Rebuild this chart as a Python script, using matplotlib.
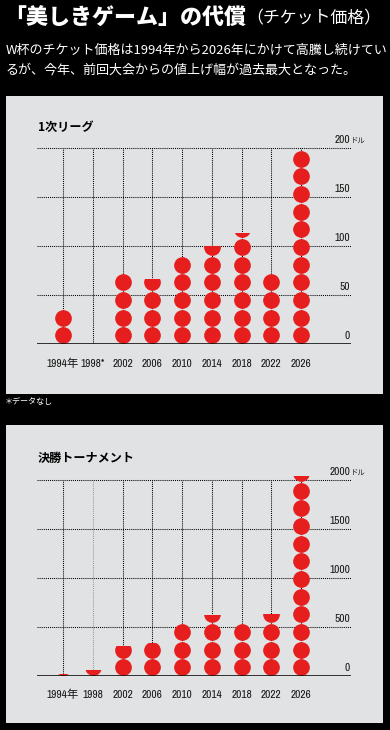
import math
import numpy as np
import matplotlib
matplotlib.use('Agg')
import matplotlib.pyplot as plt
from matplotlib.patches import Rectangle
from matplotlib import font_manager as fm

plt.rcParams['font.family'] = ['Noto Sans CJK JP', 'DejaVu Sans']

# ---------------- data ----------------
group_years = ['1994年', '1998*', '2002', '2006', '2010', '2014', '2018', '2022', '2026']
group_prices = [36, None, 72, 66, 90, 100, 113, 72, 198]
group_ticks = [0, 50, 100, 150, 200]
group_unit = 18          # dollars per circle

final_years = ['1994年', '1998', '2002', '2006', '2010', '2014', '2018', '2022', '2026']
final_prices = [22, 58, 305, 335, 528, 620, 540, 630, 2040]
final_ticks = [0, 500, 1000, 1500, 2000]
final_unit = 180         # dollars per circle

title_main = '「美しきゲーム」の代償'
title_sub = '（チケット価格）'
lead1 = 'W杯のチケット価格は1994年から2026年にかけて高騰し続けてい'
lead2 = 'るが、今年、前回大会からの値上げ幅が過去最大となった。'
note = '＊データなし'

# ---------------- style ----------------
W, H = 390, 730
PANEL = '#e1e2e3'
RED = '#e61e1e'

# pick a condensed face for the numerals if one is installed
ttf = fm.fontManager.ttflist
names = {f.name for f in ttf}
NUMSTRETCH = 'normal'
NUMSIZE = 7.4
NUMWEIGHT = 'normal'
if 'Liberation Sans Narrow' in names:
    NUMFONT, NUMSIZE, NUMWEIGHT = 'Liberation Sans Narrow', 8.2, 'bold'
else:
    cond = [f.name for f in ttf if ('Condensed' in f.name or 'Narrow' in f.name)]
    dvc = [f for f in ttf if f.name == 'DejaVu Sans' and 'ondensed' in str(f.stretch)]
    if cond:
        NUMFONT, NUMSIZE = sorted(cond)[0], 8.2
    elif dvc:
        NUMFONT, NUMSTRETCH, NUMSIZE = 'DejaVu Sans', 'condensed', 7.4
    else:
        NUMFONT = 'Liberation Sans' if 'Liberation Sans' in names else 'DejaVu Sans'
NUMFAM = [NUMFONT, 'Noto Sans CJK JP']

fig = plt.figure(figsize=(W / 100, H / 100), dpi=100, facecolor='black')


def fx(px):
    return px / W


def fy(py):
    return 1 - py / H


X0, DX = 63, 29.75            # pixel x of first column, spacing
GL, GR = 37, 351              # gridline extent (px)
DIAM_PX = 16.7


def numtext(ax, *args, **kw):
    kw.setdefault('fontsize', NUMSIZE)
    return ax.annotate(*args, family=NUMFAM, fontstretch=NUMSTRETCH,
                       weight=NUMWEIGHT, color='#161616', **kw)


def panel(top_px, bot_px, title, title_y, base_px, topgrid_px, ticks, values,
          unit, labels, label_y, gray_cols=()):
    bg = fig.add_axes([fx(6), fy(bot_px), fx(377), (bot_px - top_px) / H])
    bg.set_facecolor(PANEL)
    bg.set_xticks([]); bg.set_yticks([])
    for s in bg.spines.values():
        s.set_visible(False)
    fig.text(fx(38), fy(title_y), title, fontsize=8.7, weight='bold',
             color='black', va='center', ha='left')

    ymax = ticks[-1]
    ppu = (base_px - topgrid_px) / ymax
    view_top = ymax * 1.12
    ax = fig.add_axes([fx(GL), fy(base_px), fx(GR - GL), view_top * ppu / H])
    ax.patch.set_alpha(0)
    xl = (GL - X0) / DX
    xr = (GR - X0) / DX
    ax.set_xlim(xl, xr)
    ax.set_ylim(0, view_top)
    ax.axis('off')

    ax.hlines(ticks[1:], xl, xr, colors='black', linestyles=(0, (1, 1)),
              linewidth=0.75, zorder=1)
    n = len(labels)
    cols = ['#9a9a9a' if i in gray_cols else 'black' for i in range(n)]
    ax.vlines(np.arange(n), 0, ymax, colors=cols, linestyles=(0, (1, 1)),
              linewidth=0.75, zorder=1)
    ax.hlines([0], xl, xr, colors='black', linewidth=1.1, zorder=4)

    s = (DIAM_PX * 72 / 100) ** 2
    for i, v in enumerate(values):
        if v is None:
            continue
        k = math.ceil(v / unit)
        ys = (np.arange(k) + 0.5) * unit
        sc = ax.scatter(np.full(k, i), ys, s=s, c=RED, linewidths=0, zorder=3)
        clip = Rectangle((i - 0.5, 0), 1, v, transform=ax.transData)
        sc.set_clip_path(clip)

    for t in ticks:
        numtext(ax, f'{t}', xy=(350, t), xycoords=('figure pixels', 'data'),
                xytext=(0, 2.3), textcoords='offset points', ha='right',
                va='bottom')
    numtext(ax, 'ドル', xy=(350, ymax), xycoords=('figure pixels', 'data'),
            xytext=(0.3, 2.3), textcoords='offset points', ha='left',
            va='bottom', fontsize=5.3)

    for i, lab in enumerate(labels):
        numtext(ax, lab, xy=(i, fy(label_y)), xycoords=('data', 'figure fraction'),
                ha='center', va='center')
    return ax


panel(96, 394, '1次リーグ', 127, 344, 148, group_ticks, group_prices,
      group_unit, group_years, 364)
panel(425, 723, '決勝トーナメント', 458, 676, 480, final_ticks, final_prices,
      final_unit, final_years, 695, gray_cols=(1,))

# ---------------- header ----------------
t1 = fig.text(fx(4), fy(18), title_main, fontsize=15.8, weight='heavy',
              color='white', va='center', ha='left')
fig.canvas.draw()
bb = t1.get_window_extent()
fig.text(bb.x1 / W, fy(18), title_sub, fontsize=12.2, color='white',
         va='center', ha='left')
fig.text(fx(6), fy(50), lead1, fontsize=9.4, color='white', va='center', ha='left')
fig.text(fx(6), fy(70), lead2, fontsize=9.4, color='white', va='center', ha='left')
fig.text(fx(5), fy(402), note, fontsize=5.8, color='white', va='center', ha='left')

fig.savefig('out.png', dpi=100, facecolor='black')
